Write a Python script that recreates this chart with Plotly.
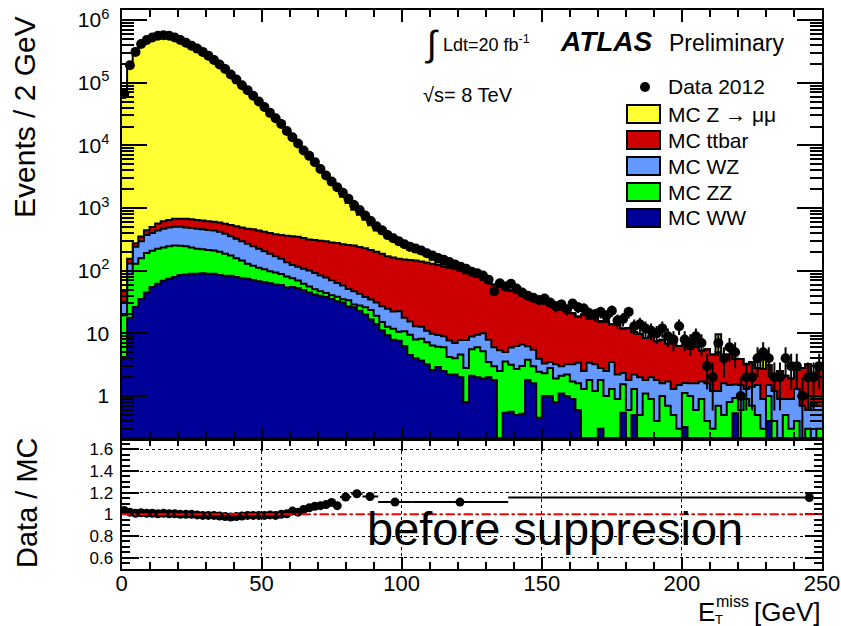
import numpy as np
import plotly.graph_objects as go

# ---------------- data (2 GeV bins, 0-250 GeV) ----------------
bin_width = 2
x_min, x_max = 0, 250

mc_ww = [
    4.2, 17.8, 26.3, 35.5, 44.7, 55.0, 61.7, 69.2, 74.1, 79.4,
    85.1, 87.1, 89.1, 89.1, 91.2, 89.1, 89.1, 85.1, 83.2, 83.2,
    79.4, 75.9, 74.1, 70.8, 67.6, 66.1, 63.1, 60.3, 58.9, 54.0,
    55.0, 53.0, 49.0, 44.7, 41.7, 39.8, 38.0, 35.5, 32.4, 31.0,
    26.9, 26.0, 22.9, 20.0, 16.6, 14.1, 11.2, 9.3, 7.9, 7.6,
    6.3, 4.5, 4.0, 3.7, 3.2, 2.6, 2.9, 2.5, 2.2, 2.2,
    2.0, 0.8, 2.1, 2.0, 1.9, 2.0, 1.8, 0, 0.54, 0.56,
    0.5, 0.52, 1.8, 1.6, 0.45, 1.0, 1.0, 0.8, 1.1, 1.0,
    0.9, 0.6, 0, 0, 0, 0.3, 0, 0, 0, 0.54,
    0, 0.5, 0, 0, 0, 0, 0, 0, 0, 0,
    0.32, 0, 0, 0, 0, 0, 0, 0, 0, 0.53,
    0, 0, 0, 0, 0, 0.4, 0, 0, 0, 0,
    0, 0, 0, 0, 0]

mc_zz = [
    15.3, 71, 103, 123, 146, 154, 162, 165, 171, 172,
    166, 158, 145, 135, 128, 125, 120, 115, 103, 91,
    79, 69, 55, 49, 44, 39, 35, 33, 30, 27,
    21, 17, 13, 11, 9, 7, 6, 5, 6, 4,
    7, 3, 5, 6, 7, 5, 4, 3.5, 4, 3,
    4.5, 5, 4, 4.5, 4, 3.8, 3.2, 3.5, 2, 1.8,
    2.6, 2, 3.5, 4, 3.3, 1.5, 1.2, 2.5, 3, 2.6,
    2.2, 2.5, 2.0, 1.4, 2.0, 1.3, 1.8, 1.1, 1.0, 1.2,
    0.8, 1.0, 1.3, 1.8, 1.2, 1.5, 1.0, 1.3, 0.9, 1.0,
    0.6, 0.8, 0.5, 1.1, 0.9, 0.4, 1.0, 0.7, 0.5, 0.3,
    0.8, 1.0, 0.6, 0.9, 0.4, 0.3, 0.7, 0.5, 0.8, 0.4,
    0.6, 0.9, 0.7, 0.5, 0.3, 0.6, 0.4, 0.2, 0.5, 0.3,
    0.4, 0.2, 0.3, 0.15, 0.3]

mc_wz = [
    12.5, 41, 111, 137, 180, 191, 213, 234, 245, 249,
    250, 245, 245, 244, 238, 233, 228, 217, 203, 181,
    166, 150, 140, 125, 112, 99, 88, 77, 66, 55,
    47, 46, 45, 45, 41, 37, 34, 30, 25, 23,
    17, 18, 15, 12, 11, 12, 12, 12, 10.5, 12,
    7, 6, 5, 4.5, 3.8, 3.5, 3.3, 3.0, 3.5, 3.0,
    3.2, 5, 3.3, 3.5, 4.8, 4.4, 3, 2.9, 1.5, 2.8,
    3.6, 3.6, 2.4, 2.5, 1.5, 1, 0.7, 1.3, 0.9, 1.0,
    1.5, 1.8, 1.2, 1.6, 2.0, 1.0, 1.5, 2.2, 1.3, 0.8,
    1.2, 0.9, 1.5, 0.7, 1.1, 1.4, 0.6, 1.0, 0.8, 1.2,
    0.5, 0.6, 1.0, 0.8, 1.2, 0.9, 0.5, 1.1, 0.7, 0.6,
    0.9, 0.4, 0.7, 1.0, 0.6, 0.5, 0.8, 0.7, 0.4, 0.6,
    0.9, 0.5, 0.3, 0.6, 0.4]

mc_ttbar = [
    15, 25, 35, 55, 70, 100, 130, 147, 155, 176,
    175, 186, 182, 178, 174, 170, 166, 172, 173, 182,
    189, 195, 199, 212, 213, 213, 212, 210, 217, 225,
    232, 231, 224, 215, 217, 218, 217, 211, 212, 206,
    206, 205, 197, 191, 179, 169, 159, 145, 140, 132,
    133, 132, 132, 128, 124, 119, 114, 108, 104, 100,
    92, 83, 76, 70, 62, 58, 54, 50, 46, 42,
    39, 34, 31, 28.5, 28, 26.7, 24.5, 22.8, 21, 18.8,
    17.8, 15.2, 17.5, 13.9, 14.6, 12.4, 13.1, 10.5, 11.6, 9.6,
    10.4, 8.3, 7.9, 6.6, 7.0, 5.7, 6.3, 5.2, 5.9, 4.8,
    5.0, 4.1, 4.5, 3.6, 4.0, 3.4, 3.8, 2.7, 3.1, 2.4,
    2.4, 1.9, 2.1, 1.3, 1.8, 1.6, 1.0, 1.6, 1.2, 1.0,
    1.3, 2.1, 2.6, 1.6, 2.2]

mc_zmumu = [
    63700, 186100, 306600, 408500, 474800, 519300, 556600, 563800, 556600, 521700,
    479300, 434300, 389300, 351100, 312500, 272100, 231700, 197400, 167800, 137900,
    113800, 91900, 76300, 62170, 50060, 41000, 32770, 26890, 21630, 16550,
    12750, 10140, 7610, 6100, 4710, 3590, 2730, 2100, 1715, 1245,
    950, 690, 541, 423, 318, 238, 209, 162, 134, 110,
    87, 68, 57, 48, 36, 20, 12, 8, 5, 3,
    2, 1, 1.5, 0, 0.8, 1.2, 0, 0, 0, 0.6,
    0, 0, 0, 0, 0, 0, 0, 0.7, 0, 0,
    0, 0, 0, 0, 0, 0.5, 0, 0, 0, 0,
    0, 0, 0, 0, 0, 0, 0, 0, 0, 0,
    0, 0, 0, 0, 0, 0, 4.7, 0, 0, 0,
    0, 0, 0, 0, 2.4, 0, 0, 0, 0, 0,
    0, 0, 0, 0, 0]

data_2012 = [
    66000, 190000, 310000, 415000, 480000, 525000, 560000, 570000, 560000, 525000,
    480000, 435000, 390000, 350000, 310000, 270000, 230000, 195000, 165000, 135000,
    112000, 91000, 76000, 62000, 50000, 41000, 33000, 27000, 22000, 17000,
    13500, 10700, 8300, 6800, 5400, 4200, 3300, 2650, 2150, 1750,
    1400, 1120, 930, 760, 620, 510, 440, 370, 330, 295,
    265, 240, 225, 210, 190, 175, 160, 150, 138, 126,
    116, 107, 96, 91, 84, 72, 47, 63, 56, 62,
    52, 45, 40, 37, 34, 36, 31, 27, 29, 24,
    30, 26, 25, 21, 20, 22, 19, 23, 16, 17,
    22, 13, 14, 12, 11, 10, 12, 9, 8, 13,
    8, 7, 9, 7, 3, 2, 7, 4, 6, 5,
    1, 2, 2, 4, 5, 4, 2, 2, 4, 3,
    3, 1, 2, 2, 3]

# ratio panel (variable bins)
ratio_lo = [0, 2, 4, 6, 8, 10, 12, 14, 16, 18, 20, 22, 24, 26, 28, 30, 32, 34, 36, 38,
            40, 42, 44, 46, 48, 50, 52, 54, 56, 58, 60, 62, 64, 66, 68, 70, 72, 74, 76,
            78, 82, 86, 91.6, 103.6, 138]
ratio_hi = [2, 4, 6, 8, 10, 12, 14, 16, 18, 20, 22, 24, 26, 28, 30, 32, 34, 36, 38, 40,
            42, 44, 46, 48, 50, 52, 54, 56, 58, 60, 62, 64, 66, 68, 70, 72, 74, 76, 78,
            82, 86, 91.6, 103.6, 138, 245.5]
ratio_x = [1, 3, 5, 7, 9, 11, 13, 15, 17, 19, 21, 23, 25, 27, 29, 31, 33, 35, 37, 39,
           41, 43, 45, 47, 49, 51, 53, 55, 57, 59, 61, 63, 65, 67, 69, 71, 73, 75, 77,
           80, 84, 88.7, 97.6, 120.8, 245.5]
ratio_val = [1.035, 1.02, 1.01, 1.015, 1.01, 1.01, 1.005, 1.01, 1.005, 1.005,
             1.0, 1.0, 1.0, 0.995, 0.99, 0.99, 0.99, 0.985, 0.98, 0.975,
             0.98, 0.985, 0.99, 0.99, 0.99, 0.99, 0.995, 0.99, 1.0, 1.005,
             1.03, 1.02, 1.045, 1.06, 1.075, 1.08, 1.09, 1.11, 1.08,
             1.16, 1.19, 1.165, 1.113, 1.113, 1.155]

x_tick_vals = [0, 50, 100, 150, 200, 250]
x_tick_text = ["0", "50", "100", "150", "200", "250"]
y_tick_vals = [1, 10, 100, 1000, 1e4, 1e5, 1e6]
y_tick_text = ["1", "10", "10<sup>2</sup>", "10<sup>3</sup>", "10<sup>4</sup>",
               "10<sup>5</sup>", "10<sup>6</sup>"]
r_tick_vals = [0.6, 0.8, 1.0, 1.2, 1.4, 1.6]
r_tick_text = ["0.6", "0.8", "1", "1.2", "1.4", "1.6"]

stack = [("MC WW", mc_ww, "#000099"), ("MC ZZ", mc_zz, "#00FF00"),
         ("MC WZ", mc_wz, "#6699FF"), ("MC ttbar", mc_ttbar, "#CC0000"),
         ("MC Z \u2192 \u03bc\u03bc", mc_zmumu, "#FFFF33")]

# ---------------- geometry ----------------
W, H = 841, 626
FONT = "Liberation Sans, Arial, Helvetica, sans-serif"


def px(x):
    return x / W


def py(y):
    return 1 - y / H


XL, XR = 121.5, 822
YT, YM, YB = 10, 438.5, 568.5

edges = np.arange(x_min, x_max + bin_width, bin_width)
centers = edges[:-1] + bin_width / 2
FLOOR = 1e-3

fig = go.Figure()
fig.add_trace(go.Scatter(x=edges, y=np.full(len(edges), FLOOR), mode="lines",
                         line=dict(width=0, shape="hv"), hoverinfo="skip",
                         xaxis="x", yaxis="y"))
cum = np.zeros(len(centers))
for name, vals, col in stack:
    cum = cum + np.array(vals, dtype=float)
    yy = np.maximum(cum, FLOOR)
    yy = np.append(yy, yy[-1])
    fig.add_trace(go.Scatter(x=edges, y=yy, mode="lines", name=name,
                             line=dict(color="black", width=2, shape="hv"),
                             fill="tonexty", fillcolor=col,
                             xaxis="x", yaxis="y"))

d = np.array(data_2012, dtype=float)
err = np.sqrt(d)
fig.add_trace(go.Scatter(x=centers, y=d, mode="markers", name="Data 2012",
                         marker=dict(color="black", size=10),
                         error_y=dict(type="data", symmetric=False, array=err,
                                      arrayminus=np.minimum(err, d * 0.999),
                                      color="black", thickness=2, width=0),
                         xaxis="x", yaxis="y"))

rx = np.array(ratio_x)
fig.add_trace(go.Scatter(x=rx, y=ratio_val, mode="markers",
                         marker=dict(color="black", size=9),
                         error_x=dict(type="data", symmetric=False,
                                      array=np.array(ratio_hi) - rx,
                                      arrayminus=rx - np.array(ratio_lo),
                                      color="black", thickness=2, width=0),
                         xaxis="x2", yaxis="y2"))

common_x = dict(range=[x_min, x_max], ticks="inside", tickwidth=1.5, tickcolor="black",
                tickmode="array", tickvals=x_tick_vals, ticktext=x_tick_text,
                showline=True, linewidth=2, linecolor="black",
                mirror="ticks", zeroline=False, automargin=False,
                domain=[px(XL), px(XR)])

minor_log = [m * 10 ** e for e in range(-1, 7) for m in range(2, 10)]

fig.update_layout(
    width=W, height=H, margin=dict(l=0, r=0, t=0, b=0),
    template="none", paper_bgcolor="white", plot_bgcolor="white",
    showlegend=False, font=dict(family=FONT, color="black"),
    xaxis=dict(**common_x, anchor="y", showticklabels=False, ticklen=12,
               showgrid=False,
               minor=dict(ticks="inside", ticklen=7, dtick=10, tick0=0,
                          tickwidth=1.5, tickcolor="black", showgrid=False)),
    yaxis=dict(type="log", range=[np.log10(0.21), 6.16], domain=[py(YM), py(YT)],
               anchor="x", tickmode="array", tickvals=y_tick_vals, ticktext=y_tick_text,
               ticks="inside", ticklen=25, tickwidth=1.5, tickcolor="black",
               showline=True, linewidth=2, linecolor="black", mirror="ticks",
               showgrid=False, zeroline=False, automargin=False,
               tickfont=dict(size=21, family=FONT), ticklabelstandoff=6,
               minor=dict(tickmode="array", tickvals=minor_log, ticks="inside",
                          ticklen=12, tickwidth=1.5, tickcolor="black", showgrid=False)),
    xaxis2=dict(**common_x, anchor="y2", matches="x", ticklen=12,
                showgrid=True, gridcolor="black", griddash="dot", gridwidth=1,
                tickfont=dict(size=22, family=FONT), ticklabelstandoff=-6,
                ticklabeloverflow="allow",
                minor=dict(ticks="inside", ticklen=7, dtick=10, tick0=0,
                           tickwidth=1.5, tickcolor="black", showgrid=False)),
    yaxis2=dict(range=[0.5, 1.7], domain=[py(YB), py(YM)], anchor="x2",
                tickmode="array", tickvals=r_tick_vals, ticktext=r_tick_text,
                ticks="inside", ticklen=17, tickwidth=1.5, tickcolor="black",
                showline=True, linewidth=2, linecolor="black", mirror="ticks",
                showgrid=True, gridcolor="black", griddash="dot", gridwidth=1,
                zeroline=False, automargin=False,
                tickfont=dict(size=17, family=FONT), ticklabelstandoff=3,
                minor=dict(ticks="inside", ticklen=8, dtick=0.05, tick0=0.5,
                           tickwidth=1.5, tickcolor="black", showgrid=False)),
)

# reference line at 1 in the ratio panel
fig.add_shape(type="line", xref="x2", yref="y2", x0=x_min, x1=x_max, y0=1, y1=1,
              line=dict(color="red", width=2, dash="dashdot"))


def ann(text, x, y, size, xanchor="left", yanchor="middle", angle=0, **kw):
    fig.add_annotation(text=text, x=px(x), y=py(y), xref="paper", yref="paper",
                       xanchor=xanchor, yanchor=yanchor, showarrow=False,
                       textangle=angle, font=dict(size=size, family=FONT, color="black"),
                       **kw)


# axis titles
ann("Events / 2 GeV", 24, 117, 30, xanchor="center", angle=-90)
ann("Data / MC", 27, 503, 29, xanchor="center", angle=-90)
ann("E", 696, 612, 26)
ann("miss", 714, 601, 16)
ann("T", 713, 619, 13)
ann("[GeV]", 822, 612, 26, xanchor="right")

# header texts
ann("\u222b", 423, 43, 36)
ann("Ldt=20 fb<sup>-1</sup>", 441, 43, 18)
ann("<b><i>ATLAS</i></b>", 558, 42, 28)
ann("Preliminary", 667, 43, 23)
ann("\u221as= 8 TeV", 421, 95, 20)
ann("before suppresion", 365, 528, 47)

# legend
fig.add_shape(type="circle", xref="paper", yref="paper",
              x0=px(640), x1=px(650), y0=py(92), y1=py(82),
              fillcolor="black", line=dict(color="black", width=0))
ann("Data 2012", 666, 87, 21)
row_y = [114, 140, 166, 192, 218]
for (name, vals, col), yy in zip(reversed(stack), row_y):
    fig.add_shape(type="rect", xref="paper", yref="paper",
                  x0=px(627), x1=px(660), y0=py(yy + 9), y1=py(yy - 9),
                  fillcolor=col, line=dict(color="black", width=2))
    ann(name, 666, yy, 21)

fig.write_html("out.html")
